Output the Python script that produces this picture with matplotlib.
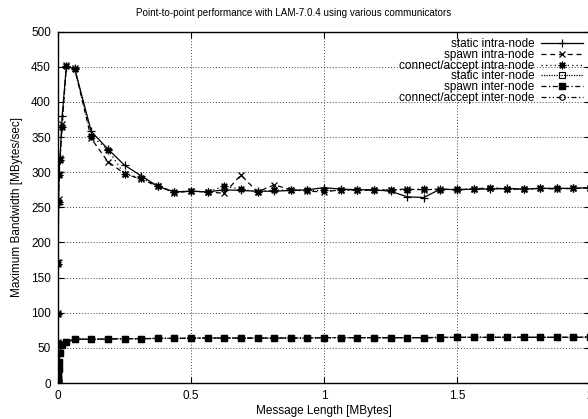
import numpy as np
import matplotlib
matplotlib.use('Agg')
import matplotlib.pyplot as plt

plt.rcParams['font.family'] = ['Liberation Sans', 'DejaVu Sans']

# message sizes: small ones in bytes, large ones in KBytes
small_bytes = [1, 8, 64, 256, 512, 1024, 2048, 4096, 8192, 16384, 32768, 65536]
large_kb = [128, 192, 256, 320, 384, 448, 512, 576, 640, 704, 768, 832, 896, 960,
            1024, 1088, 1152, 1216, 1280, 1344, 1408, 1472, 1536, 1600, 1664, 1728,
            1792, 1856, 1920, 1984, 2048]

# bandwidth in MBytes/sec
static_intra = [0.5, 4, 28, 60, 100, 175, 255, 300, 322, 380, 450, 448,
                358, 333, 310, 295, 280, 272, 273, 272, 275, 274, 273, 273, 274, 275,
                278, 276, 275, 275, 273, 265, 264, 276, 275, 276, 276, 277, 276, 277,
                277, 277, 278]
spawn_intra = [0.5, 4, 27, 58, 100, 172, 262, 298, 320, 368, 452, 448,
               348, 315, 298, 290, 280, 271, 273, 272, 270, 296, 272, 282, 275, 273,
               272, 275, 275, 274, 275, 276, 275, 276, 275, 276, 278, 276, 276, 277,
               276, 277, 278]
connect_intra = [0.5, 4, 27, 57, 98, 170, 258, 296, 318, 365, 451, 447,
                 352, 332, 297, 292, 280, 272, 273, 272, 280, 276, 272, 274, 275, 274,
                 274, 274, 275, 274, 275, 275, 276, 275, 276, 276, 277, 276, 276, 277,
                 277, 277, 278]
static_inter = [0.03, 0.2, 1, 4, 7, 12, 20, 30, 43, 54, 58, 63,
                62, 63, 63, 63, 63.5, 63.5, 64, 64, 64, 64, 64, 64, 64, 64,
                64.5, 64.5, 64.5, 64.5, 64.5, 64.5, 64.5, 65, 65, 65, 65, 65, 65, 65,
                65, 65, 65.3]
spawn_inter = [0.03, 0.2, 1, 4, 7, 12, 20, 30, 43, 54, 58, 62.5,
               62, 62.5, 63, 63, 63.5, 63.5, 63.5, 64, 64, 64, 64, 64, 64, 64,
               64.5, 64.5, 64.5, 64.5, 64.5, 64.5, 64.5, 64.5, 65, 65, 65, 65, 65, 65,
               65, 65, 65.3]
connect_inter = [0.03, 0.2, 1, 4, 7, 12, 20, 30, 43, 54, 58, 62.7,
                 62.2, 62.7, 63, 63.2, 63.5, 63.5, 63.8, 64, 64, 64, 64, 64, 64, 64,
                 64.5, 64.5, 64.5, 64.5, 64.5, 64.5, 64.5, 65, 65, 65, 65, 65, 65, 65,
                 65, 65, 65.3]

labels = ['static intra-node', 'spawn intra-node', 'connect/accept intra-node',
          'static inter-node', 'spawn inter-node', 'connect/accept inter-node']

x = np.array(small_bytes) / 2.0**20
x = np.concatenate([x, np.array(large_kb) / 1024.0])

fig = plt.figure(figsize=(5.88, 4.19), dpi=100)
ax = fig.add_axes([58/588, 1 - 383/419, 532/588, 351.3/419])

ms = 4.5
ax.plot(x, static_intra, color='k', lw=0.9, ls='-', marker='+', ms=ms+1, mew=0.9, label=labels[0])
ax.plot(x, spawn_intra, color='k', lw=0.9, ls=(0, (4, 3)), marker='x', ms=ms, mew=0.9, label=labels[1])
ax.plot(x, connect_intra, color='k', lw=0.9, ls=(0, (1, 2.5)), marker=(8, 2, 0), ms=ms+1, mew=0.9, label=labels[2])
ax.plot(x, static_inter, color='k', lw=0.9, ls=(0, (1, 1)), marker='s', ms=ms, mfc='none', mew=0.8, label=labels[3])
ax.plot(x, spawn_inter, color='k', lw=0.9, ls=(0, (4, 2, 1, 2)), marker='s', ms=ms, mfc='k', label=labels[4])
ax.plot(x, connect_inter, color='k', lw=0.9, ls=(0, (4, 2, 1, 2, 1, 2)), marker='o', ms=ms-0.5, mfc='none', mew=0.8, label=labels[5])

ax.set_xlim(0, 2)
ax.set_ylim(0, 500)
ax.set_xticks([0, 0.5, 1, 1.5, 2])
ax.set_xticklabels(['0', '0.5', '1', '1.5', '2'])
ax.set_yticks(np.arange(0, 501, 50))
ax.grid(True, color='0.25', ls=(0, (1, 2)), lw=0.7)
ax.tick_params(direction='in', length=4, width=0.8, top=True, right=True,
               labelsize=8.5, pad=5, colors='k')
for s in ax.spines.values():
    s.set_linewidth(1.0)

ax.set_xlabel('Message Length [MBytes]', fontsize=8.5, labelpad=2)
ax.set_ylabel('Maximum Bandwidth [MBytes/sec]', fontsize=8.5, labelpad=6)
fig.suptitle('Point-to-point performance with LAM-7.0.4 using various communicators',
             fontsize=7.1, x=0.5, y=1 - 13/419, va='center')

ax.legend(loc='upper right', bbox_to_anchor=(0.987, 0.982), frameon=False,
          markerfirst=False, fontsize=8.5, handlelength=3.6, handletextpad=0.5,
          labelspacing=-0.1, borderpad=0, borderaxespad=0, numpoints=1)

fig.savefig('out.png', dpi=100)
